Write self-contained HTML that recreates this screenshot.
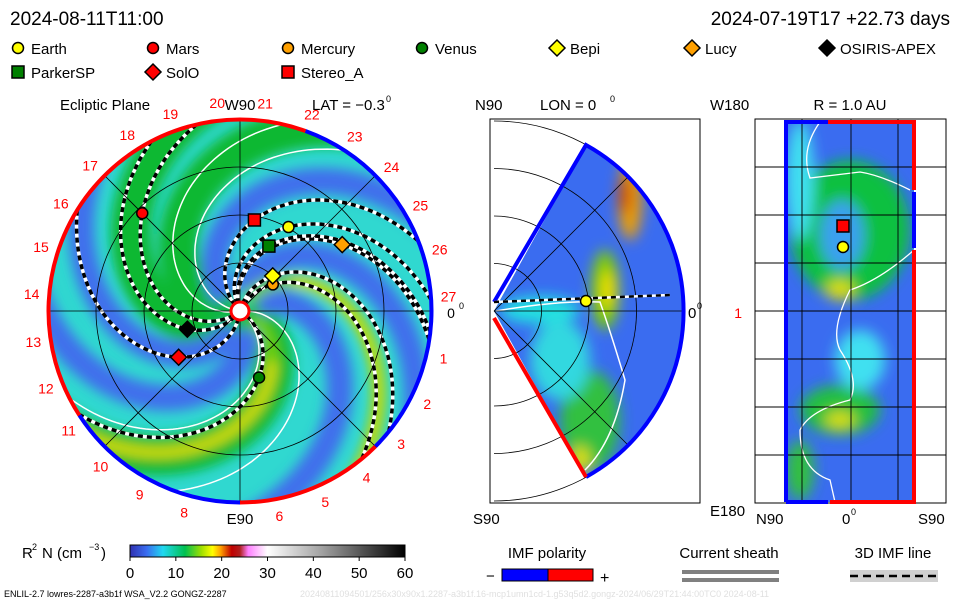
<!DOCTYPE html>
<html><head><meta charset="utf-8">
<style>
body{margin:0;background:#fff;}
svg text{font-family:"Liberation Sans",sans-serif;}
</style></head>
<body>
<svg id="s" width="960" height="600" viewBox="0 0 960 600" xmlns="http://www.w3.org/2000/svg">
<defs>
<filter id="bl" x="-20%" y="-20%" width="140%" height="140%"><feGaussianBlur stdDeviation="6"/></filter>
<filter id="bl2" x="-50%" y="-50%" width="200%" height="200%"><feGaussianBlur stdDeviation="7"/></filter>
<clipPath id="cc"><circle cx="240" cy="311" r="193"/></clipPath>
<clipPath id="wc"><path d="M494,311 L586,145 A190,190 0 0 1 586,477 Z"/></clipPath>
<clipPath id="rc"><rect x="786" y="122" width="128" height="380"/></clipPath>
<linearGradient id="cb" x1="0" x2="1" y1="0" y2="0">
<stop offset="0" stop-color="#3030b0"/><stop offset="0.06" stop-color="#3a6cf0"/><stop offset="0.12" stop-color="#20d8f0"/>
<stop offset="0.2" stop-color="#00c050"/><stop offset="0.26" stop-color="#a0e000"/><stop offset="0.3" stop-color="#ffff00"/>
<stop offset="0.33" stop-color="#ffa000"/><stop offset="0.37" stop-color="#c00000"/><stop offset="0.4" stop-color="#b02020"/>
<stop offset="0.43" stop-color="#ff80ff"/><stop offset="0.5" stop-color="#ffffff"/><stop offset="0.7" stop-color="#a0a0a0"/>
<stop offset="1" stop-color="#000000"/></linearGradient>
</defs>
<g id="root"></g>
</svg>
<script>
const NS='http://www.w3.org/2000/svg';
const root=document.getElementById('root');
function el(tag,attrs,parent){const e=document.createElementNS(NS,tag);for(const k in attrs)e.setAttribute(k,attrs[k]);(parent||root).appendChild(e);return e;}
function txt(x,y,s,size,fill,anchor,parent){const t=el('text',{x:x,y:y,'font-size':size,fill:fill||'#000','text-anchor':anchor||'start'},parent);t.textContent=s;return t;}

// ---- data ----
const bodyNames=['Earth','Mars','Mercury','Venus','Bepi','Lucy','OSIRIS-APEX','ParkerSP','SolO','Stereo_A'];
const bodyR=[1.01,1.44,0.44,0.72,0.50,1.27,0.58,0.74,0.80,0.96];     // AU
const bodyAng=[-60,-135,-39,74,-47,-33,161,-66,143,-81];             // screen deg
const bodyShape=['c','c','c','c','d','d','d','s','d','s'];
const bodyColor=['#ffff00','#ff0000','#ffa000','#008000','#ffff00','#ffa000','#000000','#008000','#ff0000','#ff0000'];
const cbTicks=[0,10,20,30,40,50,60];
const carrNums=[0,1,2,3,4,5,6,7,8,9,10,11,12,13,14,15,16,17,18,19,20,21,22,23,24,25,26,27];
const blueArms=[-150,-92,-38,62,100];
const greenArms=[173,135,20];
const yellowArms=[-66,22];
const whiteArms=[-172,38,168,-5];

const CX=240,CY=311,PX=96,K=0.6,RMAX=193;
function spiral(a0,r1,r2){let d='';for(let r=r1;r<=r2;r+=3){const a=(a0+K*r)*Math.PI/180;d+=(d?'L':'M')+(CX+r*Math.cos(a)).toFixed(1)+','+(CY+r*Math.sin(a)).toFixed(1);}return d;}
function marker(x,y,shape,color,parent,name){
  let e;
  if(shape==='c')e=el('circle',{cx:x,cy:y,r:5.5,fill:color,stroke:'#000','stroke-width':1.5},parent);
  else if(shape==='s')e=el('rect',{x:x-6,y:y-6,width:12,height:12,fill:color,stroke:'#000','stroke-width':1.5},parent);
  else e=el('path',{d:`M${x},${y-8}L${x+8},${y}L${x},${y+8}L${x-8},${y}Z`,fill:color,stroke:'#000','stroke-width':1.5},parent);
  
  
  return e;
}

// ---- titles ----
txt(10,25,'2024-08-11T11:00',19);
txt(950,25,'2024-07-19T17  +22.73 days',19,'#000','end');

// ---- legend ----
const legX=[18,153,288,422,557,692,827,18,153,288];
const legY=[48,48,48,48,48,48,48,72,72,72];
const legOrder=[0,1,2,3,4,5,6,7,8,9];
legOrder.forEach((i,j)=>{
  const g=el('g',{});
  
  
  marker(legX[j],legY[j],bodyShape[i],bodyColor[i],g,'legend-marker');
  txt(legX[j]+13,legY[j]+6,bodyNames[i],15,'#000','start',g);
});

// ---- ecliptic panel ----
const ep=el('g',{'clip-path':'url(#cc)'});


el('circle',{cx:CX,cy:CY,r:RMAX,fill:'#30d8d0'},ep);
const blurG=el('g',{filter:'url(#bl)'},ep);
greenArms.forEach(a=>el('path',{d:spiral(a,5,260),fill:'none',stroke:'#10b830','stroke-width':40},blurG));
blueArms.forEach(a=>el('path',{d:spiral(a,20,260),fill:'none',stroke:'#4070ec','stroke-width':26},blurG));
yellowArms.forEach(a=>{el('path',{d:spiral(a,15,260),fill:'none',stroke:'#70d000','stroke-width':14},blurG);el('path',{d:spiral(a,60,260),fill:'none',stroke:'#f0e000','stroke-width':7},blurG);});
whiteArms.forEach(a=>el('path',{d:spiral(a,10,260),fill:'none',stroke:'#fff','stroke-width':1.5},ep));
bodyAng.forEach((ang,i)=>{
  const d=spiral(ang-K*bodyR[i]*PX,8,260);
  el('path',{d:d,fill:'none',stroke:'#fff','stroke-width':3.5},ep);
  el('path',{d:d,fill:'none',stroke:'#000','stroke-width':3.5,'stroke-dasharray':'5 4'},ep);
});
// grid
[48,96,144].forEach(r=>el('circle',{cx:CX,cy:CY,r:r,fill:'none',stroke:'#000','stroke-width':0.8},ep));
[0,45,90,135].forEach(a=>{const t=a*Math.PI/180;el('line',{x1:CX-RMAX*Math.cos(t),y1:CY-RMAX*Math.sin(t),x2:CX+RMAX*Math.cos(t),y2:CY+RMAX*Math.sin(t),stroke:'#000','stroke-width':0.8},ep);});
// boundary arcs
function arc(a1,a2,col){const r=RMAX-1.5,p1=[CX+r*Math.cos(a1*Math.PI/180),CY+r*Math.sin(a1*Math.PI/180)],p2=[CX+r*Math.cos(a2*Math.PI/180),CY+r*Math.sin(a2*Math.PI/180)];el('path',{d:`M${p1[0]},${p1[1]}A${r},${r} 0 ${(a2-a1)>180?1:0} 1 ${p2[0]},${p2[1]}`,fill:'none',stroke:col,'stroke-width':4},root);}
arc(-70,45,'#0000ff');arc(45,90,'#ff0000');arc(90,147,'#0000ff');arc(147,290,'#ff0000');
el('circle',{cx:CX,cy:CY,r:9,fill:'#fff',stroke:'#ff0000','stroke-width':3});
bodyNames.forEach((n,i)=>{const a=bodyAng[i]*Math.PI/180,r=bodyR[i]*PX;marker(CX+r*Math.cos(a),CY+r*Math.sin(a),bodyShape[i],bodyColor[i],root,'body-'+n.toLowerCase());});
// carrington numbers (increase clockwise on screen)
carrNums.forEach(n=>{
  if(n===7)return;
  if(n===0){const t=txt(451,318,'0',14,'#000','middle');txt(459,309,'0',9);return;}
  const a=(n*360/27.3)*Math.PI/180;
  const x=CX+(RMAX+16)*Math.cos(a),y=CY+(RMAX+16)*Math.sin(a);
  const t=txt(x,y+5,String(n),14,'#ff0000','middle');
  
});
txt(60,110,'Ecliptic Plane',15);
txt(240,110,'W90',15,'#000','middle');
txt(312,110,'LAT = \u22120.3',15);
txt(386,102,'0',9);
txt(240,524,'E90',15,'#000','middle');

// ---- meridional panel ----
const mg=el('g',{});


const mc=el('g',{'clip-path':'url(#wc)'},mg);
el('rect',{x:490,y:140,width:200,height:340,fill:'#3a6cf0'},mc);
const mb=el('g',{filter:'url(#bl2)'},mc);
el('ellipse',{cx:540,cy:310,rx:40,ry:14,fill:'#20e0e0'},mb);
el('ellipse',{cx:605,cy:290,rx:14,ry:40,fill:'#80d000'},mb);
el('ellipse',{cx:608,cy:290,rx:6,ry:20,fill:'#ffe000'},mb);
el('ellipse',{cx:630,cy:200,rx:12,ry:40,fill:'#f0a000'},mb);
el('ellipse',{cx:625,cy:195,rx:6,ry:20,fill:'#d04000'},mb);
el('ellipse',{cx:590,cy:420,rx:30,ry:50,fill:'#30c040'},mb);
el('ellipse',{cx:580,cy:460,rx:10,ry:14,fill:'#e0e000'},mb);
el('ellipse',{cx:560,cy:360,rx:30,ry:40,fill:'#30d8e0'},mb);
el('path',{d:'M496,311 Q560,300 600,302 Q610,330 625,380 Q615,440 585,470',fill:'none',stroke:'#fff','stroke-width':1.5},mc);
el('rect',{x:490,y:119,width:210,height:384,fill:'none',stroke:'#000','stroke-width':1},mg);
[47.5,95,142.5,190].forEach(r=>el('path',{d:`M494,${311-r}A${r},${r} 0 0 1 494,${311+r}`,fill:'none',stroke:'#000','stroke-width':0.8},mg));
el('line',{x1:494,y1:311,x2:684,y2:311,stroke:'#000','stroke-width':0.8},mg);
[-45,45].forEach(a=>{const t=a*Math.PI/180;el('line',{x1:494,y1:311,x2:494+190*Math.cos(t),y2:311+190*Math.sin(t),stroke:'#000','stroke-width':0.8},mg);});
el('path',{d:'M494,302 L586,145 A190,190 0 0 1 586,477',fill:'none',stroke:'#0000ff','stroke-width':4},mg);
el('path',{d:'M494,318 L586,477',fill:'none',stroke:'#ff0000','stroke-width':4},mg);
el('path',{d:'M494,302 L670,295',fill:'none',stroke:'#fff','stroke-width':2.5},mg);
el('path',{d:'M494,302 L670,295',fill:'none',stroke:'#000','stroke-width':2.5,'stroke-dasharray':'5 4'},mg);
marker(586,301,'c','#ffff00',mg,'meridional-earth');
txt(475,110,'N90',15);txt(540,110,'LON = 0',15);txt(610,102,'0',9);
txt(688,318,'0',15);txt(697,309,'0',9);
txt(473,524,'S90',15);

// ---- R = 1 AU panel ----
const rg=el('g',{});


const rcg=el('g',{'clip-path':'url(#rc)'},rg);
el('rect',{x:786,y:122,width:128,height:380,fill:'#3a6cf0'},rcg);
const rb=el('g',{filter:'url(#bl2)'},rcg);
el('ellipse',{cx:850,cy:230,rx:60,ry:70,fill:'#10c040'},rb);
el('ellipse',{cx:842,cy:235,rx:22,ry:35,fill:'#3aa0f0'},rb);
el('ellipse',{cx:800,cy:180,rx:14,ry:60,fill:'#40e0f0'},rb);
el('ellipse',{cx:840,cy:290,rx:14,ry:10,fill:'#e0e000'},rb);
el('ellipse',{cx:840,cy:410,rx:40,ry:25,fill:'#20c040'},rb);
el('ellipse',{cx:840,cy:420,rx:15,ry:8,fill:'#e0e000'},rb);
el('ellipse',{cx:860,cy:360,rx:25,ry:30,fill:'#40e0f0'},rb);
el('ellipse',{cx:800,cy:470,rx:14,ry:30,fill:'#30c040'},rb);
el('path',{d:'M820,122 Q800,150 810,178 L860,172 Q880,175 910,190 M914,250 Q880,280 850,290 Q830,330 840,350 Q860,380 850,400 Q810,410 800,430 Q800,470 830,480 L835,502',fill:'none',stroke:'#fff','stroke-width':1.3},rcg);
el('rect',{x:755,y:119,width:191,height:384,fill:'none',stroke:'#000','stroke-width':1},rg);
[167,215,263,311,359,407,455].forEach(y=>el('line',{x1:755,y1:y,x2:946,y2:y,stroke:'#000','stroke-width':0.9},rg));
[802,851,898].forEach(x=>el('line',{x1:x,y1:119,x2:x,y2:503,stroke:'#000','stroke-width':0.9},rg));
el('path',{d:'M786,502 V122 H828',fill:'none',stroke:'#0000ff','stroke-width':4},rg);
el('path',{d:'M828,122 H914 V190',fill:'none',stroke:'#ff0000','stroke-width':4},rg);
el('path',{d:'M914,192 V248',fill:'none',stroke:'#0000ff','stroke-width':4},rg);
el('path',{d:'M914,250 V502 H830',fill:'none',stroke:'#ff0000','stroke-width':4},rg);
el('path',{d:'M828,502 H786',fill:'none',stroke:'#0000ff','stroke-width':4},rg);
marker(843,226,'s','#ff0000',rg,'r1au-stereo-a');
marker(843,247,'c','#ffff00',rg,'r1au-earth');
txt(850,110,'R = 1.0 AU',15,'#000','middle');
txt(710,110,'W180',15);txt(710,516,'E180',15);
txt(742,318,'1',14,'#ff0000','end');
txt(756,524,'N90',15);txt(842,524,'0',15);txt(851,515,'0',9);txt(918,524,'S90',15);

// ---- colorbar ----
const cg=el('g',{});


el('rect',{x:130,y:545,width:275,height:12,fill:'url(#cb)',stroke:'#000','stroke-width':1},cg);
cbTicks.forEach(v=>{const x=130+v/60*275;el('line',{x1:x,y1:557,x2:x,y2:561,stroke:'#000'},cg);txt(x,578,String(v),15,'#000','middle',cg);});
txt(22,558,'R',15);txt(32,550,'2',9);txt(42,558,'N (cm',15);txt(89,550,'\u22123',9);txt(101,558,')',15);

// ---- IMF polarity ----
txt(547,558,'IMF polarity',15,'#000','middle');
el('rect',{x:502,y:569,width:46,height:12,fill:'#0000ff',stroke:'#000'});
el('rect',{x:548,y:569,width:45,height:12,fill:'#ff0000',stroke:'#000'});
txt(486,581,'\u2212',15);txt(600,583,'+',16);
txt(729,558,'Current sheath',15,'#000','middle');
el('rect',{x:682,y:570,width:97,height:4,fill:'#808080'});el('rect',{x:682,y:578,width:97,height:4,fill:'#808080'});
txt(893,558,'3D IMF line',15,'#000','middle');
el('rect',{x:850,y:570,width:88,height:12,fill:'#d0d0d0'});
el('line',{x1:850,y1:576,x2:938,y2:576,stroke:'#000','stroke-width':2.5,'stroke-dasharray':'8 5'});
txt(4,597,'ENLIL-2.7 lowres-2287-a3b1f WSA_V2.2 GONGZ-2287',9);
txt(300,597,'20240811094501/256x30x90x1.2287-a3b1f.16-mcp1umn1cd-1.g53q5d2.gongz-2024/06/29T21:44:00TC0    2024-08-11',9,'#e0e0e0');
</script>
</body></html>
